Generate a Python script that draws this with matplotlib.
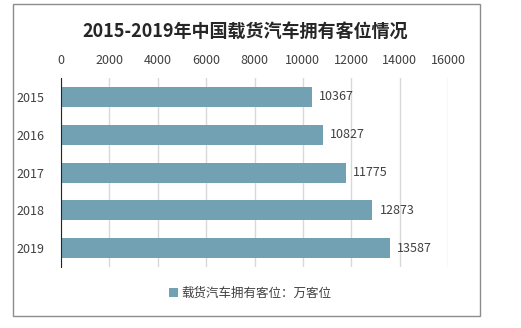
import matplotlib
matplotlib.use('Agg')
import matplotlib.pyplot as plt
from matplotlib.patches import Rectangle

plt.rcParams['font.family'] = ['Noto Sans CJK SC', 'DejaVu Sans']

years = ['2015', '2016', '2017', '2018', '2019']
values = [10367, 10827, 11775, 12873, 13587]
xticks = [0, 2000, 4000, 6000, 8000, 10000, 12000, 14000, 16000]
bar_color = '#72a1b4'

fig = plt.figure(figsize=(5.21, 3.28), dpi=100)
ax = fig.add_axes([0.117, 0.186, 0.743, 0.576])

# 外框
fig.patches.append(Rectangle((0.025, 0.037), 0.896, 0.951, transform=fig.transFigure,
                             fill=False, edgecolor='#8c8c8c', linewidth=1.0))

bars = ax.barh(years, values, height=0.53, color=bar_color, label='载货汽车拥有客位：万客位', zorder=3)
for y, v in zip(range(len(years)), values):
    ax.text(v + 300, y, str(v), va='center', ha='left', fontsize=9, color='#404040')

ax.set_xlim(0, 16000)
ax.set_ylim(len(years) - 0.5, -0.5)
ax.set_xticks(xticks)
ax.xaxis.tick_top()
ax.tick_params(axis='x', length=0, labelsize=9, colors='#404040', pad=8)
ax.tick_params(axis='y', length=0, labelsize=9, colors='#404040', pad=12)
ax.grid(axis='x', color='#d9d9d9', linewidth=1, zorder=0)
for key, spine in ax.spines.items():
    spine.set_visible(False)
ax.spines['left'].set_visible(True)
ax.spines['left'].set_color('#262626')
ax.spines['left'].set_zorder(4)

fig.text(0.47, 0.905, '2015-2019年中国载货汽车拥有客位情况', ha='center', va='center',
         fontsize=13, fontweight='bold', color='#262626')

fig.legend(loc='center', bbox_to_anchor=(0.48, 0.105), frameon=False, fontsize=9,
           handlelength=0.7, handleheight=0.7, handletextpad=0.3, labelcolor='#404040')

fig.savefig('out.png', dpi=100)
